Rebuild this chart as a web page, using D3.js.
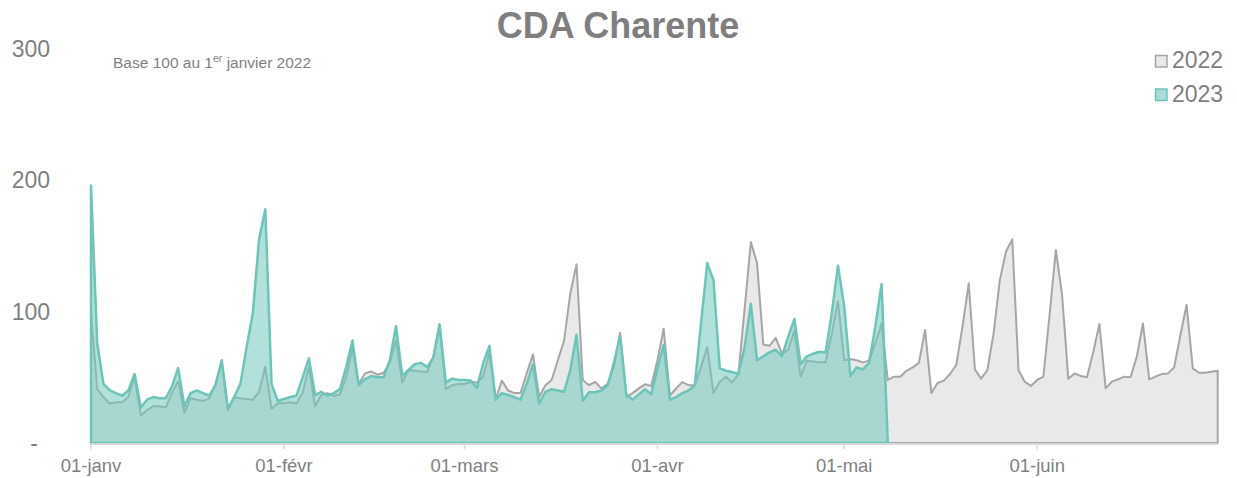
<!DOCTYPE html>
<html>
<head>
<meta charset="utf-8">
<script src="https://cdn.jsdelivr.net/npm/d3@7/dist/d3.min.js"></script>
<style>
    body { margin: 0; background: #ffffff; }
    text { font-family: "Liberation Sans", Arial, sans-serif; }
</style>
</head>
<body>
<div id="chart"></div>
<script>
// daily index, base 100 on 1 Jan 2022 (day 0 = 01-janv)
// the date axis has a 29-févr slot (index 59), so 01-mars = 60
const values2022 = [
    100, 41, 35, 30, 31, 31, 35, 50.5, 21, 25, 28, 28, 27, 38, 47, 23, 34, 33, 32, 34,
    45, 62, 25, 35, 34, 33.5, 33, 39, 58, 26, 30, 30.5, 31, 30, 38, 58, 28, 36.5, 38, 36,
    37, 50, 72, 45, 53, 54.5, 52, 53.5, 60.6, 78, 46, 55.6, 55, 54.5, 54, 66, 90.6, 41, 44, 45,
    45, 46.5, 46, 50.5, 69, 33, 47.5, 40, 38, 38, 53, 67.5, 35, 44, 48, 63, 78, 114, 136, 48,
    44, 46.5, 41.6, 45, 58, 84, 35, 38, 41.6, 44.7, 43.4, 63, 87, 36, 41.6, 46.4, 44, 44, 58, 73,
    38, 46.7, 50.5, 46, 52.5, 102, 153, 137, 75, 74, 80, 68, 71, 85.6, 50.5, 62.7, 62, 61.4, 61.4, 83.5,
    108, 63, 64, 63, 61.4, 62.7, 76, 91, 48, 50.5, 50.5, 55, 57.6, 61, 86, 38, 45.7, 47.5, 52.5, 59.4,
    88.6, 121.6, 56, 49, 55.6, 83.5, 124, 146, 155, 55.6, 46.7, 43.4, 48, 50.5, 98, 147, 113, 49, 53, 51,
    50, 69, 90.6, 41.6, 46.7, 48.5, 50.5, 50, 65.7, 91, 48.5, 50.5, 52.5, 53, 57.6, 82, 105, 56.8, 53.5, 53.5,
    54.3, 55
];

const values2023 = [
    196, 76, 45, 40, 38, 36, 40, 52.5, 27, 33, 35, 34, 34, 43, 57, 28, 38, 40, 38, 36,
    44, 63, 26, 35, 45, 73, 99, 155, 178, 45, 32, 33.5, 35, 36, 50, 64.5, 36.5, 39, 36, 38,
    41, 58, 78, 44, 48.5, 51, 50, 50, 63, 89, 51, 55.6, 60, 61, 58, 65, 90, 46, 49, 48,
    48, 47.5, 42, 60.6, 74, 33, 38, 36.5, 35, 33, 45, 60, 30, 39, 41, 40, 39, 55.6, 82.5, 32,
    38.6, 38.6, 40, 44, 61, 81.5, 37, 33, 37, 41, 37, 57, 74.6, 33, 35, 38, 40, 44, 91, 137,
    124, 57, 55, 54, 52.5, 73, 106, 63, 66, 69, 71, 66, 81, 94.4, 60, 66, 68, 69.5, 69, 98.7,
    135, 104, 51, 57.6, 56, 61, 88.6, 121, 0
];

const monthTicks = [0, 31, 60, 91, 121, 152];
const monthLabels = ['01-janv', '01-févr', '01-mars', '01-avr', '01-mai', '01-juin'];
const yTicks = [0, 100, 200, 300];
const yLabels = ['-', '100', '200', '300'];
const seriesNames = ['2022', '2023'];

var width = 1237,
    height = 478;

var x = d3.scaleLinear()
    .domain([0, values2022.length - 1])
    .range([91, 1217.7]);

var y = d3.scaleLinear()
    .domain([0, 300])
    .range([443, 49]);

const svg = d3.select('#chart')
    .append('svg')
    .attr('width', width)
    .attr('height', height);

const area = d3.area()
    .x((d, i) => x(i))
    .y0(y(0))
    .y1(d => y(d));

///////////////////////////////
// areas
///////////////////////////////
svg.append('path')
    .datum(values2022)
    .attr('d', area)
    .attr('fill', '#e9e9e9')
    .attr('stroke', '#a6a6a6')
    .attr('stroke-width', 2)
    .attr('stroke-linejoin', 'round');

svg.append('path')
    .datum(values2023)
    .attr('d', area)
    .attr('fill', 'rgba(115,199,190,0.55)')
    .attr('stroke', '#6cc5b9')
    .attr('stroke-width', 2.5)
    .attr('stroke-linejoin', 'round');

///////////////////////////////
// x axis
///////////////////////////////
svg.append('line')
    .attr('x1', x(0))
    .attr('x2', x(values2022.length - 1))
    .attr('y1', y(0) + 1)
    .attr('y2', y(0) + 1)
    .attr('stroke', '#d9d9d9')
    .attr('stroke-width', 2);

svg.append('g')
    .selectAll('line')
    .data(monthTicks)
    .enter()
    .append('line')
        .attr('x1', d => x(d))
        .attr('x2', d => x(d))
        .attr('y1', y(0) + 1)
        .attr('y2', y(0) + 6)
        .attr('stroke', '#d9d9d9')
        .attr('stroke-width', 1.5);

svg.append('g')
    .selectAll('text')
    .data(monthTicks)
    .enter()
    .append('text')
        .attr('x', d => x(d))
        .attr('y', 472)
        .attr('text-anchor', 'middle')
        .attr('font-size', 18.5)
        .attr('fill', '#7f7f7f')
        .text((d, i) => monthLabels[i]);

///////////////////////////////
// y labels (no axis line, no grid)
///////////////////////////////
svg.append('g')
    .selectAll('text')
    .data(yTicks)
    .enter()
    .append('text')
        .attr('x', d => d == 0 ? 38 : 50)
        .attr('y', d => y(d) + 8)
        .attr('text-anchor', 'end')
        .attr('font-size', 23)
        .attr('fill', '#7f7f7f')
        .text((d, i) => yLabels[i]);

///////////////////////////////
// title, subtitle
///////////////////////////////
svg.append('text')
    .attr('x', 618)
    .attr('y', 38)
    .attr('text-anchor', 'middle')
    .attr('font-size', 36)
    .attr('font-weight', 'bold')
    .attr('fill', '#7f7f7f')
    .text('CDA Charente');

const sub = svg.append('text')
    .attr('x', 113)
    .attr('y', 68)
    .attr('font-size', 15.5)
    .attr('fill', '#7f7f7f');
sub.append('tspan').text('Base 100 au 1');
sub.append('tspan').attr('dy', -6).attr('font-size', 10.5).text('er');
sub.append('tspan').attr('dy', 6).text(' janvier 2022');

///////////////////////////////
// legend
///////////////////////////////
const legend = svg.append('g')
    .selectAll('g')
    .data(seriesNames)
    .enter()
    .append('g')
        .attr('transform', (d, i) => 'translate(1155,' + (55 + i * 33.5) + ')');

legend.append('rect')
    .attr('x', 0.5)
    .attr('y', 0.5)
    .attr('width', 11.5)
    .attr('height', 11.5)
    .attr('fill', (d, i) => i == 0 ? '#e9e9e9' : '#a9dcd6')
    .attr('stroke', (d, i) => i == 0 ? '#a6a6a6' : '#6cc5b9')
    .attr('stroke-width', 1.5);

legend.append('text')
    .attr('x', 17)
    .attr('y', 13)
    .attr('font-size', 23)
    .attr('fill', '#7f7f7f')
    .text(d => d);
</script>
</body>
</html>
